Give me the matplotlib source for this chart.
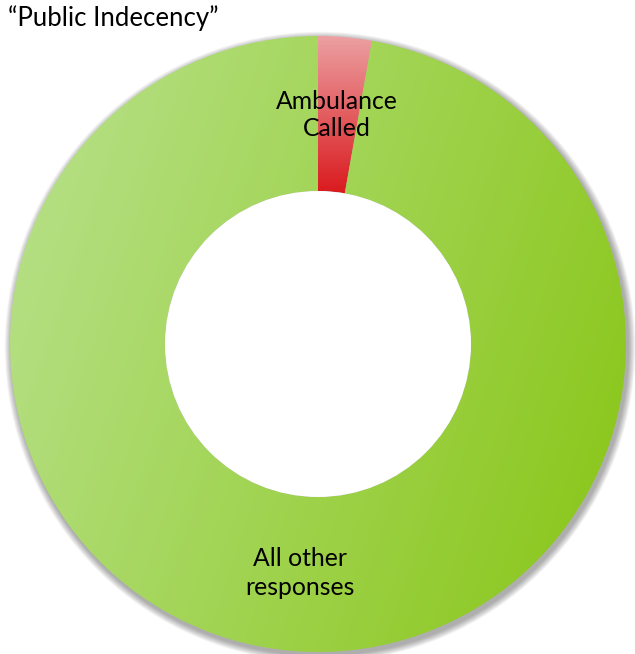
import numpy as np
import matplotlib
matplotlib.use("Agg")
import matplotlib.pyplot as plt
from matplotlib.patches import Circle
from matplotlib.colors import LinearSegmentedColormap

plt.rcParams['font.family'] = ['Lato', 'DejaVu Sans']

# data
labels = ["Ambulance\nCalled", "All other\nresponses"]
values = [2.8, 97.2]
# gradient ends per slice (light, dark)
grad_colors = [("#eda4a6", "#d9181c"), ("#b9e28e", "#88c514")]
title = "\u201cPublic Indecency\u201d"

W, H = 635, 654
fig = plt.figure(figsize=(W / 100, H / 100), dpi=100)
ax = fig.add_axes([0, 0, 1, 1])

cx, cy, R = 318, 310, 308
hole = 153

# soft shadow round the ring
for i in range(10):
    ax.add_patch(Circle((cx + 2, cy - 3), R + 1 + i * 0.7, color="#000000",
                        alpha=0.035, lw=0, zorder=0))
ax.add_patch(Circle((cx, cy), hole - 1, color="#9a9a9a", alpha=0.25, lw=0, zorder=4))

wedges, _ = ax.pie(values, startangle=90, counterclock=False, radius=R,
                   center=(cx, cy), frame=True,
                   wedgeprops=dict(width=R - hole, facecolor="none", linewidth=0))
ax.set_xlim(0, W)
ax.set_ylim(0, H)
ax.axis("off")

yy, xx = np.mgrid[0:1:300j, 0:1:300j]
for k, w in enumerate(wedges):
    cmap = LinearSegmentedColormap.from_list("g%d" % k, grad_colors[k])
    if k == 0:
        g = 1 - yy  # vertical, light at top
        ext = (cx - 5, cx + 60, cy + hole - 5, cy + R + 5)
    else:
        g = 0.75 * xx + 0.25 * (1 - yy)
        ext = (cx - R, cx + R, cy - R, cy + R)
    im = ax.imshow(g, cmap=cmap, extent=ext, origin="lower", aspect="auto",
                   interpolation="bilinear", zorder=2)
    im.set_clip_path(w)

ax.add_patch(Circle((cx, cy), hole, color="white", lw=0, zorder=5))

ax.text(337, H - 115, labels[0], ha="center", va="center", fontsize=17.8,
        linespacing=1.2, zorder=6)
ax.text(300, H - 573, labels[1], ha="center", va="center", fontsize=17.8,
        linespacing=1.3, zorder=6)
ax.text(8, H - 18, title, ha="left", va="center", fontsize=18.5, zorder=6)

fig.savefig("out.png", dpi=100)
